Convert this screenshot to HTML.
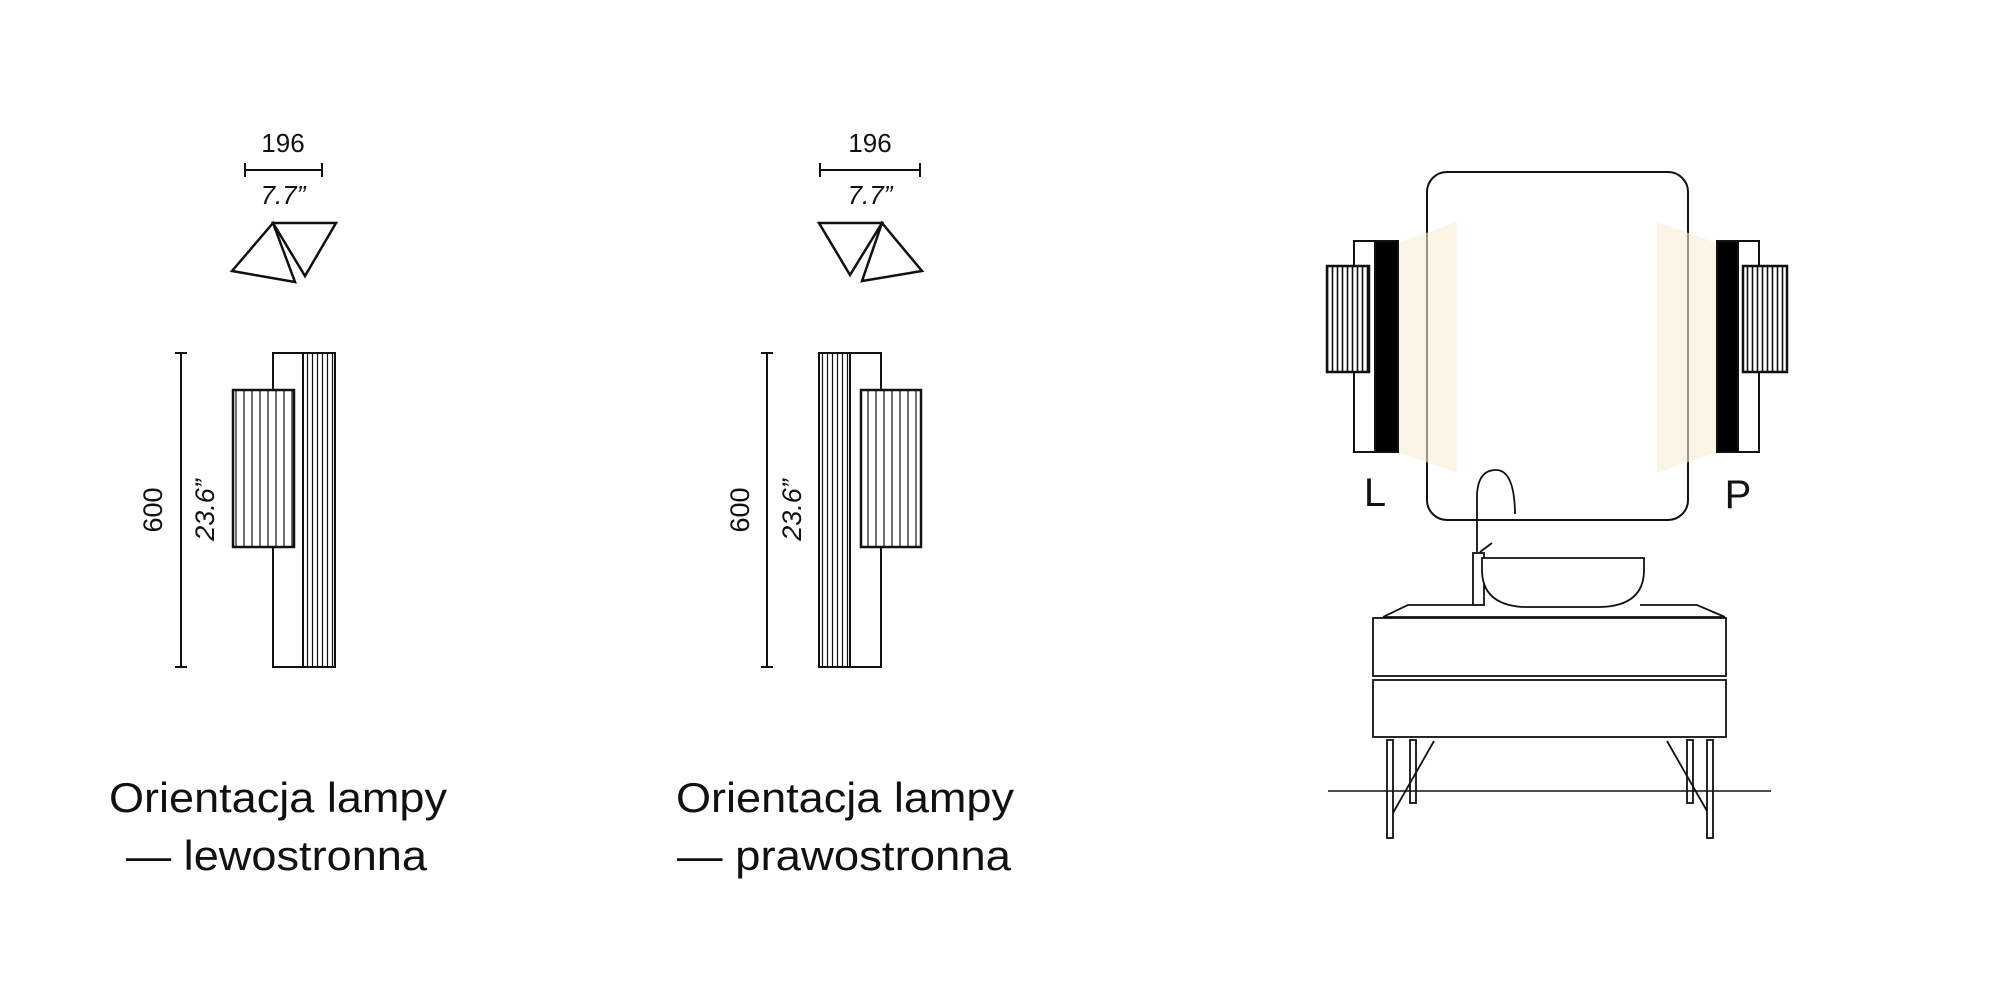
<!DOCTYPE html>
<html><head><meta charset="utf-8"><style>
html,body{margin:0;padding:0;background:#fff;}
svg{display:block;}
text{font-family:"Liberation Sans",sans-serif;fill:#111;}
</style></head><body>
<svg width="2000" height="1000" viewBox="0 0 2000 1000" xmlns="http://www.w3.org/2000/svg">
<defs>
<pattern id="fl" width="5" height="10" patternUnits="userSpaceOnUse"><rect width="5" height="10" fill="#fff"/><line x1="2.5" y1="0" x2="2.5" y2="10" stroke="#111" stroke-width="1.2"/></pattern>
<pattern id="fs" width="8" height="10" patternUnits="userSpaceOnUse"><rect width="8" height="10" fill="#fff"/><line x1="4" y1="0" x2="4" y2="10" stroke="#111" stroke-width="1.2"/></pattern>
<pattern id="fm" width="5" height="10" patternUnits="userSpaceOnUse"><rect width="5" height="10" fill="#fff"/><line x1="2.5" y1="0" x2="2.5" y2="10" stroke="#111" stroke-width="1.6"/></pattern>
</defs>
<g stroke="#111" fill="none" stroke-width="2">
<!-- LEFT -->
<line x1="245" y1="170" x2="322" y2="170"/><line x1="245" y1="163" x2="245" y2="177"/><line x1="322" y1="163" x2="322" y2="177"/>
<polygon points="232,271 273,223 295,282" stroke-width="2.5"/>
<polygon points="273,223 336,223 305,276" stroke-width="2.5"/>
<line x1="181" y1="353" x2="181" y2="667"/><line x1="175" y1="353" x2="187" y2="353"/><line x1="175" y1="667" x2="187" y2="667"/>
<rect x="273" y="353" width="30" height="314"/>
<rect x="303" y="353" width="32" height="314" fill="url(#fl)"/>
<rect x="233" y="390" width="61" height="157" fill="url(#fs)" stroke-width="2.5"/>
<!-- RIGHT -->
<line x1="820" y1="170" x2="920" y2="170"/><line x1="820" y1="163" x2="820" y2="177"/><line x1="920" y1="163" x2="920" y2="177"/>
<polygon points="819,223 882,223 850,275" stroke-width="2.5"/>
<polygon points="882,223 922,271 862,281" stroke-width="2.5"/>
<line x1="767" y1="353" x2="767" y2="667"/><line x1="761" y1="353" x2="773" y2="353"/><line x1="761" y1="667" x2="773" y2="667"/>
<rect x="850" y="353" width="31" height="314"/>
<rect x="819" y="353" width="31" height="314" fill="url(#fl)"/>
<rect x="861" y="390" width="60" height="157" fill="url(#fs)" stroke-width="2.5"/>
</g>
<text x="283" y="152" font-size="26" text-anchor="middle">196</text>
<text x="283" y="204" font-size="26" font-style="italic" text-anchor="middle">7.7”</text>
<text x="870" y="152" font-size="26" text-anchor="middle">196</text>
<text x="870" y="204" font-size="26" font-style="italic" text-anchor="middle">7.7”</text>
<text transform="translate(162,510) rotate(-90)" font-size="27" text-anchor="middle">600</text>
<text transform="translate(214,510) rotate(-90)" font-size="27" font-style="italic" text-anchor="middle">23.6”</text>
<text transform="translate(749,510) rotate(-90)" font-size="27" text-anchor="middle">600</text>
<text transform="translate(801,510) rotate(-90)" font-size="27" font-style="italic" text-anchor="middle">23.6”</text>
<text x="109" y="812" font-size="42" textLength="338" lengthAdjust="spacingAndGlyphs">Orientacja lampy</text>
<text x="126" y="870" font-size="42" textLength="301" lengthAdjust="spacingAndGlyphs">— lewostronna</text>
<text x="676" y="812" font-size="42" textLength="338" lengthAdjust="spacingAndGlyphs">Orientacja lampy</text>
<text x="677" y="870" font-size="42" textLength="334" lengthAdjust="spacingAndGlyphs">— prawostronna</text>
<!-- SCENE -->
<g stroke="#111" fill="none" stroke-width="2">
<rect x="1427" y="172" width="261" height="348" rx="20"/>
<line x1="1328" y1="791" x2="1771" y2="791" stroke-width="1.5"/>
</g>
<polygon points="1398,243 1457,222 1457,473 1398,452" fill="#f8eed6" opacity="0.6"/>
<polygon points="1717,243 1657,222 1657,473 1717,452" fill="#f8eed6" opacity="0.6"/>
<g stroke="#111" fill="none" stroke-width="2">
<rect x="1354" y="241" width="21" height="211" fill="#fff"/>
<rect x="1375" y="241" width="23" height="211" fill="#000"/>
<rect x="1327" y="266" width="42" height="106" fill="url(#fm)" stroke-width="2.5"/>
<rect x="1738" y="241" width="21" height="211" fill="#fff"/>
<rect x="1717" y="241" width="21" height="211" fill="#000"/>
<rect x="1743" y="266" width="44" height="106" fill="url(#fm)" stroke-width="2.5"/>
</g>
<text x="1375" y="506" font-size="40" text-anchor="middle">L</text>
<text x="1738" y="508" font-size="40" text-anchor="middle">P</text>
<g stroke="#111" fill="none" stroke-width="1.8">
<path d="M1477,552 L1477,495 Q1478,470 1496,470 Q1514,470 1515,512 L1515,514"/>
<line x1="1480" y1="552" x2="1492" y2="543"/>
<rect x="1473" y="553" width="11" height="52" fill="#fff"/>
<path d="M1482,558 L1644,558 L1644,570 Q1644,606 1600,607 L1522,607 Q1482,604 1482,570 Z" fill="#fff"/>
<polyline points="1383,617 1408,605 1473,605"/>
<polyline points="1640,605 1697,605 1725,617"/>
<line x1="1383" y1="617" x2="1725" y2="617"/>
<rect x="1373" y="618" width="353" height="58"/>
<rect x="1373" y="680" width="353" height="57"/>
<rect x="1387" y="740" width="6" height="98"/>
<rect x="1410" y="740" width="6" height="63"/>
<line x1="1434" y1="741" x2="1393" y2="813"/>
<rect x="1687" y="740" width="6" height="63"/>
<rect x="1707" y="740" width="6" height="98"/>
<line x1="1667" y1="741" x2="1707" y2="811"/>
</g>
</svg>
</body></html>
